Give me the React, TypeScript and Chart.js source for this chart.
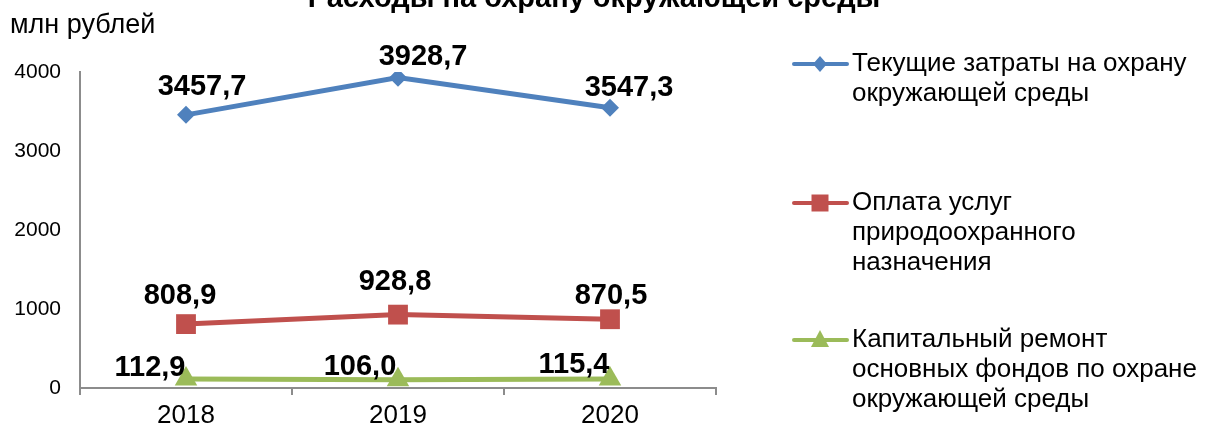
import { useEffect, useRef } from 'react';
import { Chart, registerables } from 'chart.js';

Chart.register(...registerables);

const categories = ['2018', '2019', '2020'];
const currentCosts = [3457.7, 3928.7, 3547.3];
const servicesPayment = [808.9, 928.8, 870.5];
const capitalRepair = [112.9, 106.0, 115.4];
const yTicks = [0, 1000, 2000, 3000, 4000];
const seriesNames = [
  ['Текущие затраты на охрану', 'окружающей среды'],
  ['Оплата услуг', 'природоохранного', 'назначения'],
  ['Капитальный ремонт', 'основных фондов по охране', 'окружающей среды'],
];
const chartTitle = 'Расходы на охрану окружающей среды';
const yAxisTitle = 'млн рублей';

const FONT = '"Liberation Sans", Arial, sans-serif';
const BLUE = '#4F81BD';
const RED = '#C0504D';
const GREEN = '#9BBB59';
const AXIS = '#8c8c8c';

// label offsets (style) relative to each point: [dx, dy] of text centre
const labelOffsets = [
  [[16, -30], [25, -23], [19, -22]],
  [[-6, -31], [-3, -35], [1, -26]],
  [[-36, -14], [-38, -15], [-36, -16]],
];
const legendRowY = [64, 203, 340];

const fmt = (v: number) => v.toFixed(1).replace('.', ',');

const decorPlugin = {
  id: 'decor',
  afterDatasetsDraw(chart: any) {
    const ctx = chart.ctx as CanvasRenderingContext2D;
    ctx.save();
    ctx.font = `bold 29px ${FONT}`;
    ctx.fillStyle = '#000';
    ctx.textAlign = 'center';
    ctx.textBaseline = 'alphabetic';
    chart.data.datasets.forEach((ds: any, di: number) => {
      const meta = chart.getDatasetMeta(di);
      meta.data.forEach((pt: any, i: number) => {
        const [dx, dy] = labelOffsets[di][i];
        ctx.fillText(fmt(ds.data[i]), pt.x + dx, pt.y + dy + 10.5);
      });
    });
    ctx.restore();
  },
  afterDraw(chart: any) {
    const ctx = chart.ctx as CanvasRenderingContext2D;
    ctx.save();
    ctx.fillStyle = '#000';
    ctx.font = `bold 29px ${FONT}`;
    ctx.textAlign = 'center';
    ctx.textBaseline = 'alphabetic';
    ctx.fillText(chartTitle, 594, 7);
    ctx.font = `27px ${FONT}`;
    ctx.textAlign = 'left';
    ctx.fillText(yAxisTitle, 10, 33);
    chart.data.datasets.forEach((ds: any, di: number) => {
      const y = legendRowY[di];
      ctx.strokeStyle = ds.borderColor;
      ctx.lineWidth = 4;
      ctx.lineCap = 'round';
      ctx.beginPath();
      ctx.moveTo(794, y);
      ctx.lineTo(847, y);
      ctx.stroke();
      ctx.fillStyle = ds.backgroundColor;
      ctx.beginPath();
      const cx = 820;
      if (ds.pointStyle === 'rectRot') {
        ctx.moveTo(cx, y - 8);
        ctx.lineTo(cx + 7, y);
        ctx.lineTo(cx, y + 8);
        ctx.lineTo(cx - 7, y);
        ctx.closePath();
      } else if (ds.pointStyle === 'rect') {
        ctx.rect(cx - 8.5, y - 8.5, 17, 17);
      } else {
        ctx.moveTo(cx, y - 10);
        ctx.lineTo(cx + 9, y + 7);
        ctx.lineTo(cx - 9, y + 7);
        ctx.closePath();
      }
      ctx.fill();
      ctx.fillStyle = '#000';
      ctx.font = `26px ${FONT}`;
      ctx.textAlign = 'left';
      ctx.textBaseline = 'middle';
      seriesNames[di].forEach((line, li) => {
        ctx.fillText(line, 852, y + li * 30);
      });
    });
    ctx.restore();
  },
};

export default function App() {
  const ref = useRef<HTMLCanvasElement | null>(null);
  useEffect(() => {
    if (!ref.current) return;
    const chart = new Chart(ref.current, {
      type: 'line',
      data: {
        labels: categories,
        datasets: [
          {
            label: seriesNames[0].join(' '),
            data: currentCosts,
            borderColor: BLUE,
            backgroundColor: BLUE,
            borderWidth: 5,
            pointStyle: 'rectRot',
            pointRadius: 9,
            pointBorderWidth: 0,
            tension: 0,
          },
          {
            label: seriesNames[1].join(' '),
            data: servicesPayment,
            borderColor: RED,
            backgroundColor: RED,
            borderWidth: 5,
            pointStyle: 'rect',
            pointRadius: 14,
            pointBorderWidth: 0,
            tension: 0,
          },
          {
            label: seriesNames[2].join(' '),
            data: capitalRepair,
            borderColor: GREEN,
            backgroundColor: GREEN,
            borderWidth: 5,
            pointStyle: 'triangle',
            pointRadius: 13,
            pointBorderWidth: 0,
            tension: 0,
          },
        ],
      },
      options: {
        animation: false,
        responsive: false,
        events: [],
        layout: { padding: { left: 0, top: 72, right: 492, bottom: 0 } },
        plugins: {
          legend: { display: false },
          title: { display: false },
          tooltip: { enabled: false },
        },
        scales: {
          x: {
            type: 'category',
            offset: true,
            afterFit: (s: any) => {
              s.height = 39;
            },
            grid: {
              display: true,
              drawOnChartArea: false,
              drawTicks: true,
              tickLength: 7,
              offset: true,
              color: AXIS,
              lineWidth: 2,
            },
            border: { display: true, color: AXIS, width: 2 },
            ticks: {
              color: '#000',
              font: { family: FONT, size: 26 },
              padding: 5,
              maxRotation: 0,
            },
          },
          y: {
            min: 0,
            max: 4000,
            afterFit: (s: any) => {
              s.width = 80;
            },
            afterBuildTicks: (s: any) => {
              s.ticks = yTicks.map((v) => ({ value: v }));
            },
            grid: { display: false, drawTicks: false },
            border: { display: true, color: AXIS, width: 2 },
            ticks: {
              color: '#000',
              font: { family: FONT, size: 21 },
              padding: 19,
              callback: (v: any) => String(v),
            },
          },
        },
      },
      plugins: [decorPlugin],
    });
    return () => chart.destroy();
  }, []);
  return (
    <div style={{ position: 'absolute', left: 0, top: 0, width: 1208, height: 427 }}>
      <canvas ref={ref} width={1208} height={427} style={{ display: 'block' }} />
    </div>
  );
}
